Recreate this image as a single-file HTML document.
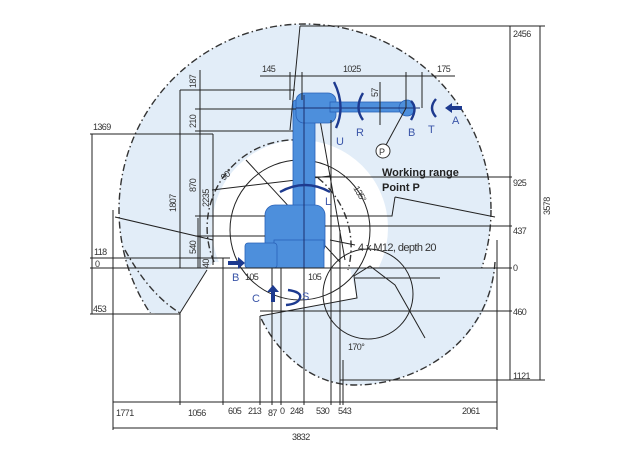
<!DOCTYPE html>
<html><head><meta charset="utf-8"><style>
html,body{margin:0;padding:0;background:#fff}
svg{display:block}
text{font-family:"Liberation Sans",sans-serif;font-size:9px;fill:#333;letter-spacing:-0.6px}
.ax{fill:#3a55a8;font-size:11px;letter-spacing:0}
.ln{stroke:#222;stroke-width:1;fill:none}
.dd{stroke:#333;stroke-width:1.4;fill:none;stroke-dasharray:7 3 1.5 3}
.rb{fill:#4d8fdc;stroke:#2a62b8;stroke-width:0.8}
.ar{stroke:#1d3a8f;stroke-width:2.4;fill:none}
</style></head><body>
<svg width="627" height="470" viewBox="0 0 627 470">
<!-- working range fill -->
<circle cx="305" cy="210" r="186" fill="#e2edf8"/>
<circle class="dd" cx="305" cy="210" r="186"/>
<circle cx="300" cy="228" r="88" fill="#fff"/>
<polygon points="60,313 180,313 207,270 213,262 345,262 357,298 260,316 260,470 60,470" fill="#fff"/>
<rect x="258" y="268" width="260" height="202" fill="#fff"/>
<path d="M260,316 L357,298 L350,268 L495,268 C490,340 420,385 355,385 C310,385 275,350 260,316 Z" fill="#e2edf8"/>
<path d="M155,314 L180,313 L150,300 Z" fill="#e2edf8"/>
<path class="dd" d="M495,262 C490,340 420,385 355,385 C310,385 275,350 260,316"/>
<path class="dd" d="M125,250 Q150,295 180,313"/>
<path class="dd" d="M214,262 A88,88 0 0 1 300,140"/>
<path class="dd" d="M318,178 A88,88 0 0 1 348,270"/>
<!-- inner circles -->
<circle class="ln" cx="300" cy="230" r="70"/>
<circle class="ln" cx="368" cy="294" r="45"/>
<!-- misc lines -->
<polyline class="ln" points="180,313 207,270"/>
<polyline class="ln" points="115,217 213,240"/>
<polyline class="ln" points="260,316 357,298 354,276 370,266 395,285 425,338"/>
<polyline class="ln" points="395,197 495,217"/>
<polyline class="ln" points="395,197 392,216 330,216"/>
<line class="ln" x1="355" y1="278" x2="440" y2="278"/>
<line class="ln" x1="300" y1="26" x2="290" y2="130"/>
<line class="ln" x1="246" y1="160" x2="340" y2="262"/>
<line class="ln" x1="212" y1="190" x2="330" y2="176"/>
<line class="ln" x1="320" y1="120" x2="345" y2="260"/>
<!-- robot -->
<rect class="rb" x="293" y="100" width="22" height="150" rx="3"/>
<rect class="rb" x="296" y="93" width="40" height="30" rx="8"/>
<rect class="rb" x="330" y="102" width="80" height="10"/>
<circle class="rb" cx="407" cy="108" r="8"/>
<rect class="rb" x="265" y="205" width="60" height="50" rx="10"/>
<rect class="rb" x="274" y="240" width="50" height="28"/>
<rect class="rb" x="245" y="243" width="32" height="25" rx="3"/>
<line x1="304" y1="95" x2="304" y2="268" stroke="#1c2f6e" stroke-width="1"/>
<line x1="296" y1="108" x2="420" y2="108" stroke="#1c2f6e" stroke-width="1"/>
<!-- right dims -->
<line class="ln" x1="300" y1="26" x2="545" y2="26"/>
<line class="ln" x1="510" y1="26" x2="510" y2="380"/>
<line class="ln" x1="540" y1="26" x2="540" y2="380"/>
<line class="ln" x1="315" y1="177" x2="512" y2="177"/>
<line class="ln" x1="325" y1="226" x2="512" y2="226"/>
<line class="ln" x1="90" y1="268" x2="512" y2="268"/>
<line class="ln" x1="260" y1="311" x2="512" y2="311"/>
<line class="ln" x1="340" y1="380" x2="545" y2="380"/>
<text x="513" y="37">2456</text><text x="513" y="186">925</text><text x="513" y="234">437</text>
<text x="513" y="271">0</text><text x="513" y="315">460</text><text x="513" y="379">1121</text>
<text transform="translate(550,215) rotate(-90)">3578</text>
<!-- left dims -->
<line class="ln" x1="90" y1="134" x2="213" y2="134"/>
<line class="ln" x1="92" y1="134" x2="92" y2="314"/>
<line class="ln" x1="90" y1="258" x2="230" y2="258"/>
<line class="ln" x1="90" y1="314" x2="180" y2="314"/>
<line class="ln" x1="213" y1="134" x2="213" y2="265"/>
<text x="93" y="130">1369</text><text x="94" y="255">118</text><text x="95" y="267">0</text><text x="93" y="312">453</text>
<line class="ln" x1="180" y1="90" x2="180" y2="268"/>
<line class="ln" x1="200" y1="70" x2="200" y2="268"/>
<line class="ln" x1="198" y1="218" x2="198" y2="268"/>
<line class="ln" x1="180" y1="90" x2="295" y2="90"/>
<line class="ln" x1="195" y1="109" x2="296" y2="109"/>
<line class="ln" x1="195" y1="131" x2="293" y2="131"/>
<line class="ln" x1="195" y1="216" x2="265" y2="216"/>
<line class="ln" x1="195" y1="236" x2="265" y2="236"/>
<text transform="translate(176,212) rotate(-90)">1807</text>
<text transform="translate(196,88) rotate(-90)">187</text>
<text transform="translate(196,128) rotate(-90)">210</text>
<text transform="translate(196,192) rotate(-90)">870</text>
<text transform="translate(209,207) rotate(-90)">2235</text>
<text transform="translate(196,254) rotate(-90)">540</text>
<text transform="translate(209,268) rotate(-90)">40</text>
<!-- top dims -->
<line class="ln" x1="260" y1="76" x2="455" y2="76"/>
<line class="ln" x1="290" y1="72" x2="290" y2="100"/>
<line class="ln" x1="302" y1="72" x2="302" y2="100"/>
<line class="ln" x1="406" y1="72" x2="406" y2="108"/>
<line class="ln" x1="422" y1="72" x2="422" y2="108"/>
<line class="ln" x1="380" y1="82" x2="380" y2="125"/>
<text x="262" y="72">145</text><text x="343" y="72">1025</text><text x="437" y="72">175</text>
<text transform="translate(378,97) rotate(-90)">57</text>
<!-- bottom dims -->
<line class="ln" x1="113" y1="402" x2="497" y2="402"/>
<line class="ln" x1="113" y1="428" x2="497" y2="428"/>
<g class="ln">
<line x1="113" y1="210" x2="113" y2="430"/><line x1="180" y1="313" x2="180" y2="405"/>
<line x1="223" y1="258" x2="223" y2="405"/><line x1="260" y1="316" x2="260" y2="405"/>
<line x1="272" y1="268" x2="272" y2="405"/><line x1="281" y1="268" x2="281" y2="405"/>
<line x1="304" y1="268" x2="304" y2="405"/><line x1="331" y1="120" x2="331" y2="405"/>
<line x1="340" y1="230" x2="340" y2="405"/><line x1="343" y1="360" x2="343" y2="405"/>
<line x1="497" y1="240" x2="497" y2="430"/>
</g>
<text x="116" y="416">1771</text><text x="188" y="416">1056</text><text x="228" y="414">605</text>
<text x="248" y="414">213</text><text x="268" y="416">87</text><text x="280" y="414">0</text>
<text x="290" y="414">248</text><text x="316" y="414">530</text><text x="338" y="414">543</text>
<text x="462" y="414">2061</text><text x="292" y="440">3832</text>
<text x="245" y="280">105</text><text x="308" y="280">105</text>
<text x="348" y="350">170°</text>
<text x="358" y="251" style="font-size:11px">4 x M12, depth 20</text>
<text x="382" y="176" style="font-size:11px;font-weight:bold;fill:#222;letter-spacing:0">Working range</text>
<text x="382" y="191" style="font-size:11px;font-weight:bold;fill:#222;letter-spacing:0">Point P</text>
<line class="ln" x1="355" y1="245" x2="330" y2="240"/>
<!-- P -->
<line class="ln" x1="406" y1="108" x2="386" y2="145"/>
<circle cx="383" cy="151" r="7" fill="#fff" stroke="#333" stroke-width="1"/>
<text x="379" y="155" style="font-size:9px">P</text>
<!-- axes arrows -->
<path class="ar" d="M334,82 Q346,106 336,128"/>
<path class="ar" d="M363,93 Q354,108 363,120"/>
<path class="ar" d="M411,101 Q418,108 411,120"/>
<path class="ar" d="M436,99 Q428,108 436,117"/>
<path d="M445,108 L452,103 L452,106 L462,106 L462,110 L452,110 L452,113 Z" fill="#1d3a8f"/>
<path class="ar" d="M280,192 Q305,178 330,192"/>
<path d="M228,261 L238,261 L238,257 L245,263 L238,269 L238,265 L228,265 Z" fill="#1d3a8f"/>
<path d="M271,302 L271,292 L267,292 L273,285 L279,292 L275,292 L275,302 Z" fill="#1d3a8f"/>
<path class="ar" d="M288,290 Q302,292 300,298 Q298,304 286,305"/>
<text class="ax" x="336" y="145">U</text><text class="ax" x="356" y="136">R</text>
<text class="ax" x="408" y="136">B</text><text class="ax" x="428" y="133">T</text>
<text class="ax" x="452" y="124">A</text><text class="ax" x="325" y="205">L</text>
<text class="ax" x="232" y="281">B</text><text class="ax" x="252" y="302">C</text>
<text class="ax" x="302" y="300">S</text>
<text x="212" y="172" transform="rotate(-40 230 160)">90°</text>
<text x="355" y="195" transform="rotate(60 360 190)">135°</text>
</svg>
</body></html>
